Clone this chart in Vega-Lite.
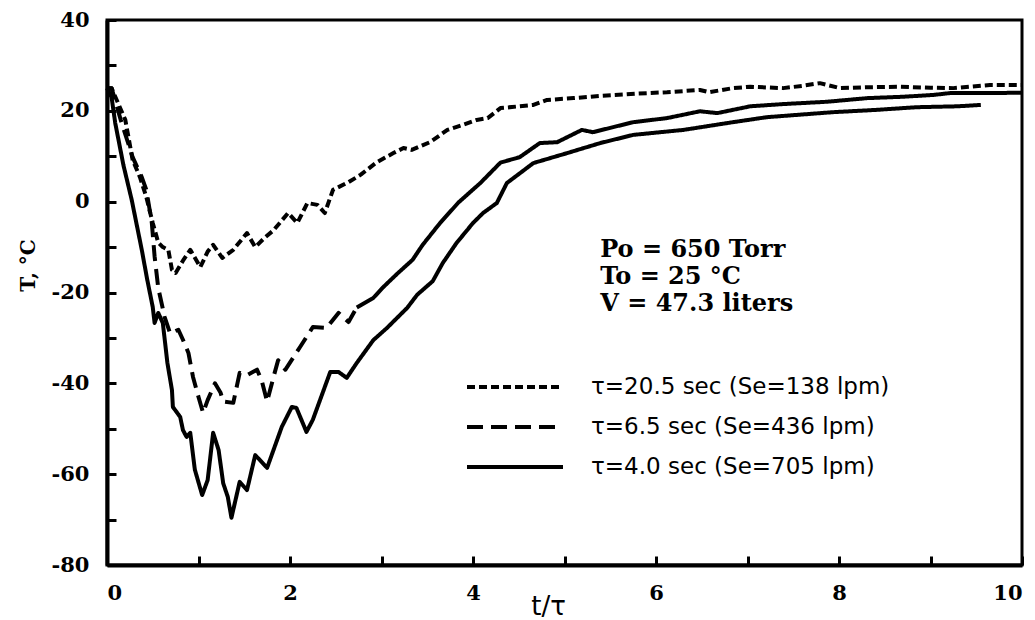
{
  "$schema": "https://vega.github.io/schema/vega-lite/v6.json",
  "width": 915,
  "height": 545,
  "autosize": "none",
  "padding": {"left": 107, "top": 20, "right": 13, "bottom": 55},
  "background": "white",
  "config": {
    "view": {"stroke": "black", "strokeWidth": 3},
    "axis": {
      "grid": false,
      "domainColor": "black",
      "domainWidth": 4,
      "tickColor": "black",
      "tickWidth": 3,
      "tickSize": -9,
      "labelColor": "black",
      "titleColor": "black"
    }
  },
  "datasets": {
    "curves": [
      {"x": 0, "T": 25, "series": "A"}, {"x": 0.05, "T": 25, "series": "A"}, {"x": 0.2, "T": 18, "series": "A"}, {"x": 0.28, "T": 9.2, "series": "A"}, {"x": 0.36, "T": 5.4, "series": "A"}, {"x": 0.43, "T": 1, "series": "A"}, {"x": 0.5, "T": -4.7, "series": "A"}, {"x": 0.56, "T": -9, "series": "A"}, {"x": 0.61, "T": -10, "series": "A"}, {"x": 0.67, "T": -10.6, "series": "A"}, {"x": 0.71, "T": -15, "series": "A"}, {"x": 0.75, "T": -15.7, "series": "A"}, {"x": 0.83, "T": -13, "series": "A"}, {"x": 0.91, "T": -10.6, "series": "A"}, {"x": 1.02, "T": -14.4, "series": "A"}, {"x": 1.1, "T": -11, "series": "A"}, {"x": 1.16, "T": -9.5, "series": "A"}, {"x": 1.26, "T": -12.4, "series": "A"}, {"x": 1.38, "T": -10.6, "series": "A"}, {"x": 1.53, "T": -6.9, "series": "A"}, {"x": 1.62, "T": -10, "series": "A"}, {"x": 1.72, "T": -8, "series": "A"}, {"x": 1.82, "T": -6.3, "series": "A"}, {"x": 1.98, "T": -2.5, "series": "A"}, {"x": 2.08, "T": -4.7, "series": "A"}, {"x": 2.19, "T": -0.3, "series": "A"}, {"x": 2.3, "T": -0.7, "series": "A"}, {"x": 2.38, "T": -2.5, "series": "A"}, {"x": 2.47, "T": 2.6, "series": "A"}, {"x": 2.64, "T": 4.3, "series": "A"}, {"x": 2.77, "T": 5.9, "series": "A"}, {"x": 2.95, "T": 8.7, "series": "A"}, {"x": 3.13, "T": 10.7, "series": "A"}, {"x": 3.24, "T": 11.8, "series": "A"}, {"x": 3.33, "T": 11.4, "series": "A"}, {"x": 3.53, "T": 13.1, "series": "A"}, {"x": 3.72, "T": 15.8, "series": "A"}, {"x": 3.9, "T": 17, "series": "A"}, {"x": 4.04, "T": 18, "series": "A"}, {"x": 4.16, "T": 18.4, "series": "A"}, {"x": 4.3, "T": 20.6, "series": "A"}, {"x": 4.66, "T": 21.3, "series": "A"}, {"x": 4.81, "T": 22.4, "series": "A"}, {"x": 5.1, "T": 22.8, "series": "A"}, {"x": 5.39, "T": 23.3, "series": "A"}, {"x": 5.8, "T": 23.8, "series": "A"}, {"x": 6.12, "T": 24.1, "series": "A"}, {"x": 6.48, "T": 24.6, "series": "A"}, {"x": 6.58, "T": 24.1, "series": "A"}, {"x": 6.84, "T": 25, "series": "A"}, {"x": 7.03, "T": 25.3, "series": "A"}, {"x": 7.39, "T": 25, "series": "A"}, {"x": 7.6, "T": 25.5, "series": "A"}, {"x": 7.79, "T": 26.1, "series": "A"}, {"x": 8.01, "T": 25, "series": "A"}, {"x": 8.3, "T": 25.2, "series": "A"}, {"x": 8.67, "T": 25.3, "series": "A"}, {"x": 9.0, "T": 25.1, "series": "A"}, {"x": 9.25, "T": 25, "series": "A"}, {"x": 9.65, "T": 25.7, "series": "A"}, {"x": 10, "T": 25.7, "series": "A"},

      {"x": 0, "T": 25, "series": "B"}, {"x": 0.05, "T": 25, "series": "B"}, {"x": 0.15, "T": 18, "series": "B"}, {"x": 0.28, "T": 9.8, "series": "B"}, {"x": 0.38, "T": 5.4, "series": "B"}, {"x": 0.43, "T": 2.6, "series": "B"}, {"x": 0.49, "T": -4.7, "series": "B"}, {"x": 0.52, "T": -12, "series": "B"}, {"x": 0.56, "T": -19, "series": "B"}, {"x": 0.63, "T": -25.4, "series": "B"}, {"x": 0.69, "T": -29, "series": "B"}, {"x": 0.78, "T": -28.2, "series": "B"}, {"x": 0.83, "T": -30.4, "series": "B"}, {"x": 0.89, "T": -33.3, "series": "B"}, {"x": 0.94, "T": -38.6, "series": "B"}, {"x": 1.0, "T": -43, "series": "B"}, {"x": 1.05, "T": -46.5, "series": "B"}, {"x": 1.1, "T": -43.7, "series": "B"}, {"x": 1.18, "T": -40, "series": "B"}, {"x": 1.24, "T": -42, "series": "B"}, {"x": 1.27, "T": -44, "series": "B"}, {"x": 1.38, "T": -44.3, "series": "B"}, {"x": 1.45, "T": -37.7, "series": "B"}, {"x": 1.53, "T": -38.2, "series": "B"}, {"x": 1.64, "T": -37, "series": "B"}, {"x": 1.69, "T": -39.3, "series": "B"}, {"x": 1.75, "T": -44, "series": "B"}, {"x": 1.82, "T": -38.6, "series": "B"}, {"x": 1.87, "T": -34.9, "series": "B"}, {"x": 1.95, "T": -37, "series": "B"}, {"x": 2.11, "T": -32, "series": "B"}, {"x": 2.25, "T": -27.6, "series": "B"}, {"x": 2.4, "T": -27.8, "series": "B"}, {"x": 2.53, "T": -24.5, "series": "B"}, {"x": 2.64, "T": -26.5, "series": "B"}, {"x": 2.73, "T": -23.3, "series": "B"},

      {"x": 2.73, "T": -23.3, "series": "Bt"}, {"x": 2.91, "T": -21.2, "series": "Bt"}, {"x": 3.02, "T": -18.8, "series": "Bt"}, {"x": 3.17, "T": -15.9, "series": "Bt"}, {"x": 3.34, "T": -12.8, "series": "Bt"}, {"x": 3.45, "T": -9.5, "series": "Bt"}, {"x": 3.64, "T": -4.7, "series": "Bt"}, {"x": 3.84, "T": -0.2, "series": "Bt"}, {"x": 4.08, "T": 4.1, "series": "Bt"}, {"x": 4.3, "T": 8.6, "series": "Bt"}, {"x": 4.51, "T": 9.8, "series": "Bt"}, {"x": 4.73, "T": 12.9, "series": "Bt"}, {"x": 4.92, "T": 13.1, "series": "Bt"}, {"x": 5.19, "T": 15.8, "series": "Bt"}, {"x": 5.31, "T": 15.3, "series": "Bt"}, {"x": 5.75, "T": 17.5, "series": "Bt"}, {"x": 6.12, "T": 18.4, "series": "Bt"}, {"x": 6.48, "T": 19.9, "series": "Bt"}, {"x": 6.67, "T": 19.5, "series": "Bt"}, {"x": 7.03, "T": 21, "series": "Bt"}, {"x": 7.4, "T": 21.5, "series": "Bt"}, {"x": 7.87, "T": 22, "series": "Bt"}, {"x": 8.31, "T": 22.8, "series": "Bt"}, {"x": 8.7, "T": 23.1, "series": "Bt"}, {"x": 9.03, "T": 23.5, "series": "Bt"}, {"x": 9.21, "T": 23.9, "series": "Bt"}, {"x": 9.65, "T": 23.9, "series": "Bt"}, {"x": 10, "T": 24, "series": "Bt"},

      {"x": 0, "T": 25, "series": "C"}, {"x": 0.05, "T": 23, "series": "C"}, {"x": 0.09, "T": 17.3, "series": "C"}, {"x": 0.18, "T": 8, "series": "C"}, {"x": 0.27, "T": 0.4, "series": "C"}, {"x": 0.38, "T": -10.6, "series": "C"}, {"x": 0.44, "T": -17.2, "series": "C"}, {"x": 0.5, "T": -23.2, "series": "C"}, {"x": 0.52, "T": -26.7, "series": "C"}, {"x": 0.56, "T": -24.5, "series": "C"}, {"x": 0.61, "T": -26.7, "series": "C"}, {"x": 0.66, "T": -35.5, "series": "C"}, {"x": 0.71, "T": -41.5, "series": "C"}, {"x": 0.72, "T": -45.2, "series": "C"}, {"x": 0.8, "T": -47.4, "series": "C"}, {"x": 0.83, "T": -50.3, "series": "C"}, {"x": 0.87, "T": -51.8, "series": "C"}, {"x": 0.91, "T": -50.9, "series": "C"}, {"x": 0.96, "T": -59, "series": "C"}, {"x": 1.04, "T": -64.6, "series": "C"}, {"x": 1.1, "T": -61.3, "series": "C"}, {"x": 1.16, "T": -50.9, "series": "C"}, {"x": 1.22, "T": -54.7, "series": "C"}, {"x": 1.27, "T": -62, "series": "C"}, {"x": 1.32, "T": -65, "series": "C"}, {"x": 1.36, "T": -69.6, "series": "C"}, {"x": 1.45, "T": -61.7, "series": "C"}, {"x": 1.53, "T": -63.5, "series": "C"}, {"x": 1.62, "T": -55.8, "series": "C"}, {"x": 1.75, "T": -58.6, "series": "C"}, {"x": 1.91, "T": -49.6, "series": "C"}, {"x": 2.02, "T": -45.2, "series": "C"}, {"x": 2.07, "T": -45.4, "series": "C"}, {"x": 2.18, "T": -50.7, "series": "C"}, {"x": 2.25, "T": -48, "series": "C"}, {"x": 2.44, "T": -37.5, "series": "C"}, {"x": 2.53, "T": -37.5, "series": "C"}, {"x": 2.62, "T": -38.8, "series": "C"}, {"x": 2.73, "T": -35.5, "series": "C"}, {"x": 2.91, "T": -30.5, "series": "C"}, {"x": 3.06, "T": -27.8, "series": "C"}, {"x": 3.28, "T": -23.4, "series": "C"}, {"x": 3.39, "T": -20.5, "series": "C"}, {"x": 3.56, "T": -17.5, "series": "C"}, {"x": 3.67, "T": -13.5, "series": "C"}, {"x": 3.82, "T": -9.1, "series": "C"}, {"x": 4.0, "T": -4.7, "series": "C"}, {"x": 4.11, "T": -2.5, "series": "C"}, {"x": 4.26, "T": -0.3, "series": "C"}, {"x": 4.37, "T": 4.1, "series": "C"}, {"x": 4.66, "T": 8.5, "series": "C"}, {"x": 5.03, "T": 10.7, "series": "C"}, {"x": 5.39, "T": 12.9, "series": "C"}, {"x": 5.75, "T": 14.7, "series": "C"}, {"x": 6.3, "T": 15.8, "series": "C"}, {"x": 6.84, "T": 17.5, "series": "C"}, {"x": 7.21, "T": 18.6, "series": "C"}, {"x": 7.93, "T": 19.7, "series": "C"}, {"x": 8.4, "T": 20.2, "series": "C"}, {"x": 8.85, "T": 20.8, "series": "C"}, {"x": 9.3, "T": 21, "series": "C"}, {"x": 9.55, "T": 21.3, "series": "C"}
    ],
    "notes": [
      {"x": 5.39, "T": -10.6, "label": "Po = 650 Torr"},
      {"x": 5.39, "T": -16.6, "label": "To = 25 °C"},
      {"x": 5.39, "T": -22.6, "label": "V = 47.3 liters"}
    ]
  },
  "layer": [
    {
      "data": {"name": "curves"},
      "transform": [
        {"lookup": "series", "from": {"data": {"values": [
          {"series": "A", "name": "τ=20.5 sec (Se=138 lpm)"},
          {"series": "B", "name": "τ=6.5 sec (Se=436 lpm)"},
          {"series": "C", "name": "τ=4.0 sec (Se=705 lpm)"},
          {"series": "Bt", "name": "τ=6.5 tail"}
        ]}, "key": "series", "fields": ["name"]}}
      ],
      "mark": {"type": "line", "color": "black", "strokeWidth": 4, "strokeCap": "butt", "strokeJoin": "round"},
      "encoding": {
        "x": {
          "field": "x", "type": "quantitative",
          "scale": {"domain": [0, 10], "nice": false},
          "axis": {
            "values": [0, 1, 2, 3, 4, 5, 6, 7, 8, 9, 10],
            "labelExpr": "datum.value % 2 == 0 ? '' + datum.value : ''",
            "labelFont": "DejaVu Serif", "labelFontWeight": "bold", "labelFontSize": 21,
            "labelPadding": 26,
            "title": "t/τ",
            "titleFont": "DejaVu Sans", "titleFontSize": 26, "titleFontWeight": "normal",
            "titleX": 441, "titleY": 49, "titleBaseline": "alphabetic", "titleAlign": "center"
          }
        },
        "y": {
          "field": "T", "type": "quantitative",
          "scale": {"domain": [-80, 40], "nice": false},
          "axis": {
            "values": [-80, -70, -60, -50, -40, -30, -20, -10, 0, 10, 20, 30, 40],
            "labelExpr": "datum.value % 20 == 0 ? '' + datum.value : ''",
            "labelFont": "DejaVu Serif", "labelFontWeight": "bold", "labelFontSize": 21,
            "labelPadding": 27,
            "title": "T, °C",
            "titleFont": "DejaVu Serif", "titleFontSize": 20, "titleFontWeight": "bold",
            "titleX": -79, "titleY": 245, "titleAngle": -90, "titleBaseline": "middle", "titleAlign": "center"
          }
        },
        "strokeDash": {
          "field": "name", "type": "nominal",
          "scale": {
            "domain": ["τ=20.5 sec (Se=138 lpm)", "τ=6.5 sec (Se=436 lpm)", "τ=4.0 sec (Se=705 lpm)", "τ=6.5 tail"],
            "range": [[8, 4], [16, 8], [1, 0], [1, 0]]
          },
          "legend": {
            "values": ["τ=20.5 sec (Se=138 lpm)", "τ=6.5 sec (Se=436 lpm)", "τ=4.0 sec (Se=705 lpm)"],
            "title": null,
            "orient": "none",
            "legendX": 394,
            "legendY": 353,
            "padding": 0,
            "symbolType": "M-4,0H4",
            "symbolSize": 576,
            "symbolStrokeWidth": 4,
            "symbolStrokeColor": "black",
            "labelFont": "DejaVu Sans",
            "labelFontSize": 23,
            "labelColor": "black",
            "labelOffset": 62,
            "rowPadding": 14,
            "labelLimit": 400
          }
        }
      }
    },
    {
      "data": {"name": "notes"},
      "mark": {"type": "text", "align": "left", "baseline": "middle", "font": "DejaVu Serif", "fontWeight": "bold", "fontSize": 24, "color": "black"},
      "encoding": {
        "x": {"field": "x", "type": "quantitative"},
        "y": {"field": "T", "type": "quantitative"},
        "text": {"field": "label"}
      }
    }
  ]
}
